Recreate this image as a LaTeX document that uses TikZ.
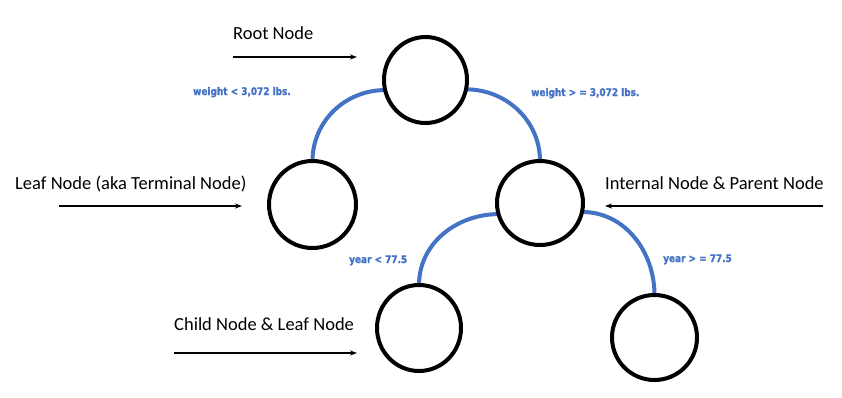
\documentclass[tikz,border=0pt]{standalone}
\usepackage{fontspec}
\setmainfont{Carlito}
\newfontfamily\lblfont[FakeStretch=0.85,BoldFeatures={FakeBold=1.5}]{DejaVu Sans}
\usetikzlibrary{arrows.meta,shapes.geometric}
\definecolor{arcblue}{HTML}{4472C4}
\pgfdeclarelayer{bg}
\pgfsetlayers{bg,main}
\begin{document}
\begin{tikzpicture}[x=1bp,y=-1bp,
  tnode/.style={ellipse,draw=black,line width=4bp,inner sep=0pt,outer sep=0pt,fill=white},
  conn/.style={draw=arcblue,line width=4bp},
  lbl/.style={text=black,font=\fontsize{18.5bp}{21bp}\selectfont,inner sep=0pt,anchor=base west},
  cond/.style={text=arcblue,font=\lblfont\bfseries\fontsize{10.5bp}{12bp}\selectfont,inner sep=0pt,anchor=base west},
  pointer/.style={line width=1.5bp,-{Stealth[length=7bp,width=5bp]}}]
\useasboundingbox (0,0) rectangle (842,397);
% nodes
\node[tnode,minimum width=83bp,minimum height=86bp] (root) at (425.5,80) {};
\node[tnode,minimum width=87bp,minimum height=87bp] (leaf) at (312.5,204.5) {};
\node[tnode,minimum width=86bp,minimum height=84bp] (internal) at (540,203) {};
\node[tnode,minimum width=84bp,minimum height=86bp] (childL) at (419,328) {};
\node[tnode,minimum width=85bp,minimum height=85bp] (childR) at (654.5,337.5) {};
% connectors
\begin{pgfonlayer}{bg}
\fill[white] (0,0) rectangle (842,397);
\draw[conn] (root.194) to[out=180,in=90] (leaf.north);
\draw[conn] (root.-13) to[out=0,in=90] (internal.north);
\draw[conn] (internal.195) to[out=180,in=90] (childL.north);
\draw[conn] (internal.-12) to[out=0,in=90] (childR.north);
\end{pgfonlayer}
% condition labels
\node[cond] (c1) at (193,95) {weight < 3,072 lbs.};
\node[cond] (c2) at (531,96) {weight > = 3,072 lbs.};
\node[cond] (c3) at (349,263) {year < 77.5};
\node[cond] (c4) at (663,262) {year > = 77.5};
% descriptive labels
\node[lbl] (t1) at (233,39) {Root Node};
\node[lbl] (t2) at (15,189) {Leaf Node (aka Terminal Node)};
\node[lbl] (t3) at (605,189) {Internal Node \& Parent Node};
\node[lbl] (t4) at (174,330) {Child Node \& Leaf Node};
% pointer arrows
\coordinate (a1s) at (233,57); \coordinate (a1e) at (357,57);
\coordinate (a2s) at (59,206); \coordinate (a2e) at (242,206);
\coordinate (a3s) at (823,206); \coordinate (a3e) at (605,206);
\coordinate (a4s) at (174,353); \coordinate (a4e) at (357,353);
\draw[pointer] (a1s) -- (a1e);
\draw[pointer] (a2s) -- (a2e);
\draw[pointer] (a3s) -- (a3e);
\draw[pointer] (a4s) -- (a4e);
\end{tikzpicture}
\end{document}
